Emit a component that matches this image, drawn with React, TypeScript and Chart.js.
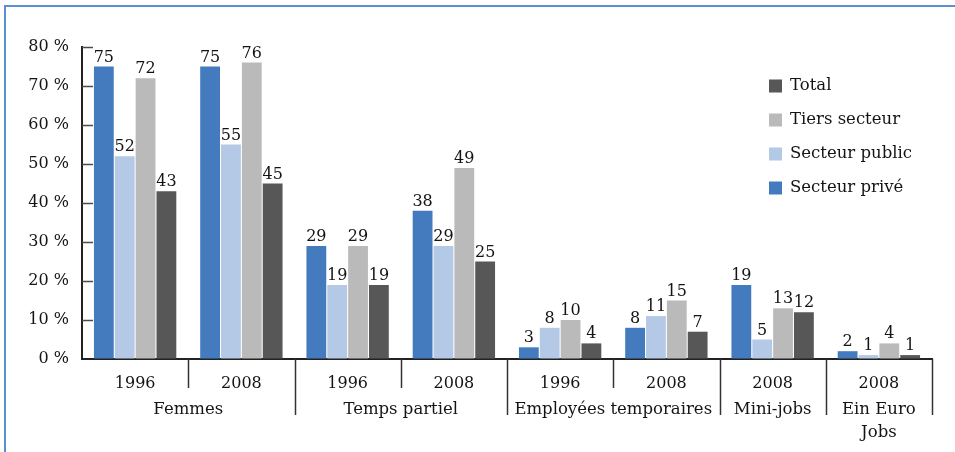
import React, { useEffect, useRef } from 'react';
import { Chart, registerables } from 'chart.js';

Chart.register(...registerables);

const categories = ['1996', '2008', '1996', '2008', '1996', '2008', '2008', '2008'];
const groupLabels: string[][] = [['Femmes'], ['Temps partiel'], ['Employées temporaires'], ['Mini-jobs'], ['Ein Euro', 'Jobs']];
const groupSpans = [2, 2, 2, 1, 1];

const seriesNames = ['Secteur privé', 'Secteur public', 'Tiers secteur', 'Total'];
const prive = [75, 75, 29, 38, 3, 8, 19, 2];
const publicS = [52, 55, 19, 29, 8, 11, 5, 1];
const tiers = [72, 76, 29, 49, 10, 15, 13, 4];
const total = [43, 45, 19, 25, 4, 7, 12, 1];
const seriesColors = ['#447bbf', '#b4c9e5', '#bababa', '#575757'];

const yTicks = [0, 10, 20, 30, 40, 50, 60, 70, 80];

const FONT = '"DejaVu Serif", serif';
const TEXT = '#141414';

const customPlugin = {
  id: 'custom',
  afterDraw(chart: any) {
    const ctx = chart.ctx as CanvasRenderingContext2D;
    const x = chart.scales.x;
    const y = chart.scales.y;
    const area = chart.chartArea;
    ctx.save();
    // inner y ticks
    ctx.strokeStyle = '#4a4a4a';
    ctx.lineWidth = 1.5;
    yTicks.forEach((v) => {
      if (v === 0) return;
      const py = Math.round(y.getPixelForValue(v)) + 0.5;
      ctx.beginPath();
      ctx.moveTo(area.left, py);
      ctx.lineTo(area.left + 11, py);
      ctx.stroke();
    });
    // x separators
    const w = (area.right - area.left) / categories.length;
    const longB = new Set<number>();
    let acc = 0;
    groupSpans.forEach((s) => {
      acc += s;
      longB.add(acc);
    });
    ctx.strokeStyle = '#333';
    ctx.lineWidth = 1.5;
    for (let i = 1; i <= categories.length; i++) {
      const px = Math.round(area.left + i * w) + 0.5;
      const len = longB.has(i) ? 56 : 29;
      ctx.beginPath();
      ctx.moveTo(px, area.bottom);
      ctx.lineTo(px, area.bottom + len);
      ctx.stroke();
    }
    // year labels
    ctx.fillStyle = TEXT;
    ctx.font = `16px ${FONT}`;
    ctx.textAlign = 'center';
    ctx.textBaseline = 'middle';
    categories.forEach((c, i) => {
      ctx.fillText(c, x.getPixelForValue(i), area.bottom + 25);
    });
    // group labels
    ctx.font = `16.5px ${FONT}`;
    let start = 0;
    groupLabels.forEach((lines, gi) => {
      const span = groupSpans[gi];
      const cx = area.left + (start + span / 2) * w;
      lines.forEach((ln, li) => {
        ctx.fillText(ln, cx, area.bottom + 51 + li * 23);
      });
      start += span;
    });
    // data labels
    ctx.font = `16px ${FONT}`;
    ctx.textBaseline = 'alphabetic';
    chart.data.datasets.forEach((ds: any, di: number) => {
      const meta = chart.getDatasetMeta(di);
      meta.data.forEach((el: any, i: number) => {
        ctx.fillText(String(ds.data[i]), el.x, el.y - 5);
      });
    });
    // legend
    ctx.textAlign = 'left';
    ctx.textBaseline = 'middle';
    ctx.font = `16.5px ${FONT}`;
    const order = [3, 2, 1, 0];
    order.forEach((di, k) => {
      const cy = 86 + k * 34;
      ctx.fillStyle = seriesColors[di];
      ctx.fillRect(769, cy - 6.5, 13, 13);
      ctx.fillStyle = TEXT;
      ctx.fillText(seriesNames[di], 790, cy);
    });
    ctx.restore();
  },
};

export default function App() {
  const ref = useRef<HTMLCanvasElement>(null);
  useEffect(() => {
    document.body.style.margin = '0';
    const chart = new Chart(ref.current as HTMLCanvasElement, {
      type: 'bar',
      data: {
        labels: categories,
        datasets: [prive, publicS, tiers, total].map((d, i) => ({
          label: seriesNames[i],
          data: d,
          backgroundColor: seriesColors[i],
          borderWidth: 0,
          barPercentage: 0.95,
          categoryPercentage: 0.785,
        })),
      },
      options: {
        responsive: false,
        animation: false,
        devicePixelRatio: 1,
        layout: { padding: { left: 0, top: 47, right: 23, bottom: 0 } },
        plugins: { legend: { display: false }, tooltip: { enabled: false } },
        scales: {
          x: {
            ticks: { display: false },
            grid: { display: false, drawTicks: false },
            border: { display: true, color: '#222', width: 2 },
            afterFit: (s: any) => {
              s.height = 93;
            },
          },
          y: {
            min: 0,
            max: 80,
            ticks: {
              stepSize: 10,
              padding: 13,
              color: TEXT,
              font: { family: FONT, size: 16 },
              callback: (v: any) => `${v} %`,
            },
            grid: { drawOnChartArea: false, drawTicks: false },
            border: { display: true, color: '#222', width: 2 },
            afterFit: (s: any) => {
              s.width = 82;
            },
          },
        },
      },
      plugins: [customPlugin],
    });
    return () => chart.destroy();
  }, []);
  return (
    <div style={{ position: 'relative', width: 955, height: 452, background: '#fff', overflow: 'hidden' }}>
      <div
        style={{
          position: 'absolute',
          left: 4,
          top: 5,
          right: -10,
          bottom: -10,
          borderTop: '2px solid #5b8fd3',
          borderLeft: '2px solid #5b8fd3',
        }}
      />
      <canvas ref={ref} width={955} height={452} style={{ position: 'absolute', left: 0, top: 0 }} />
    </div>
  );
}
